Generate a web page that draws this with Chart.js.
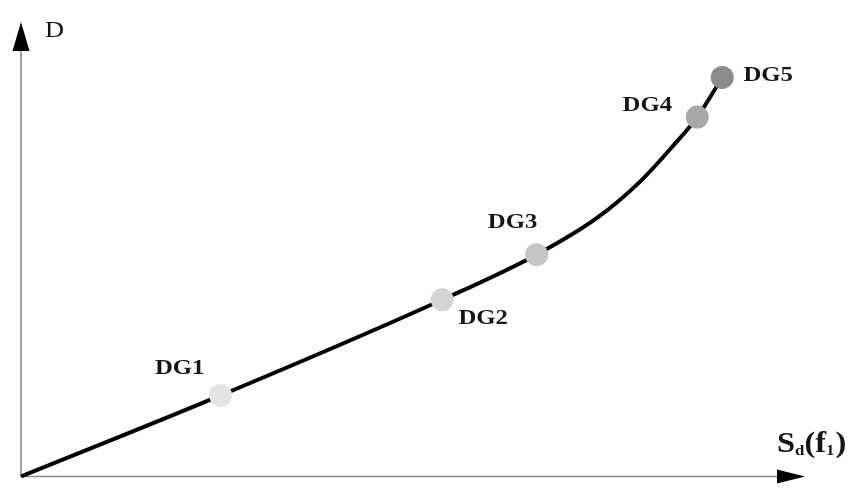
<!DOCTYPE html>
<html>
	<head>
		<title>DG curve</title>
		<script src="https://cdn.jsdelivr.net/npm/chart.js@4.4.0/dist/chart.umd.min.js"></script>
		<style>
			body { margin: 0; background: #fff; overflow: hidden; }
			canvas { display: block; }
		</style>
	</head>
	<body>
		<canvas id="myChart" width="857" height="488"></canvas>
		<script>
			// krzywa
			let curveX = [0, 25.6, 54.0, 66.1, 73.8, 79.4, 83.6, 86.7, 89.9]
			let curveY = [0, 17.8, 38.8, 48.7, 56.7, 64.8, 72.6, 78.9, 87.6]

			// punkty DG
			let dgLabels = ['DG1', 'DG2', 'DG3', 'DG4', 'DG5']
			let dgX = [25.6, 54.0, 66.1, 86.7, 89.9]
			let dgY = [17.8, 38.8, 48.7, 78.9, 87.6]
			let dgColors = ['#e4e4e4', '#d4d4d4', '#c6c6c6', '#a8a8a8', '#8c8c8c']

			let axisX = 'S'
			let axisY = 'D'

			const serif = '"Liberation Serif", "DejaVu Serif", serif'

			// tekst rozciagniety w poziomie (jak na oryginale)
			function wideText (c, txt, x, y, sx) {
				c.save()
				c.translate(x, y)
				c.scale(sx, 1)
				c.fillText(txt, 0, 0)
				c.restore()
			}

			// rysowanie osi, strzalek i podpisow
			const decor = {
				id: 'decor',
				beforeDatasetsDraw (chart) {
					const a = chart.chartArea
					const c = chart.ctx
					c.save()
					c.strokeStyle = '#8a8a8a'
					c.lineWidth = 1.6
					c.beginPath()
					c.moveTo(a.left, a.bottom)
					c.lineTo(a.left, a.top + 20)
					c.moveTo(a.left, a.bottom)
					c.lineTo(a.right - 20, a.bottom)
					c.stroke()
					c.fillStyle = '#000'
					// strzalka Y
					c.beginPath()
					c.moveTo(a.left, a.top + 1)
					c.lineTo(a.left - 8.5, a.top + 30)
					c.lineTo(a.left + 8.5, a.top + 30)
					c.closePath()
					c.fill()
					// strzalka X
					c.beginPath()
					c.moveTo(a.right + 4, a.bottom)
					c.lineTo(a.right - 24, a.bottom - 7)
					c.lineTo(a.right - 24, a.bottom + 7)
					c.closePath()
					c.fill()
					c.restore()
				},
				afterDatasetsDraw (chart) {
					const a = chart.chartArea
					const c = chart.ctx
					const xs = chart.scales.x
					const ys = chart.scales.y
					const offs = [[-41, -27], [41, 19], [-24, -32], [-50, -12], [46, -2]]
					c.save()
					c.fillStyle = '#151515'
					c.textAlign = 'center'
					c.textBaseline = 'middle'
					c.font = 'bold 21px ' + serif
					for (let i = 0; i < dgLabels.length; i++) {
						wideText(c, dgLabels[i], xs.getPixelForValue(dgX[i]) + offs[i][0], ys.getPixelForValue(dgY[i]) + offs[i][1], 1.18)
					}
					// D
					c.textAlign = 'left'
					c.textBaseline = 'alphabetic'
					c.font = '24px ' + serif
					wideText(c, axisY, a.left + 24, a.top + 16, 1.1)
					// S_d(f_1)
					c.translate(a.right - 24, a.bottom - 25)
					c.scale(1.12, 1)
					let x = 0
					let y = 0
					c.font = 'bold 29px ' + serif
					c.fillText(axisX, x, y); x += c.measureText(axisX).width
					c.font = 'bold 15px ' + serif
					c.fillText('d', x, y + 3); x += c.measureText('d').width
					c.font = 'bold 29px ' + serif
					c.fillText('(f', x, y); x += c.measureText('(f').width
					c.font = 'bold 15px ' + serif
					c.fillText('1', x, y + 3); x += c.measureText('1').width + 1
					c.font = 'bold 29px ' + serif
					c.fillText(')', x, y)
					c.restore()
				}
			}

			var ctx = document.getElementById('myChart').getContext('2d')
			var chart = new Chart(ctx, {
				type: 'scatter',
				data: {
					datasets: [{
						label: 'DG',
						data: dgX.map((v, i) => ({ x: v, y: dgY[i] })),
						backgroundColor: dgColors,
						borderWidth: 0,
						pointRadius: 11.5,
						clip: false
					}, {
						label: 'krzywa',
						type: 'line',
						data: curveX.map((v, i) => ({ x: v, y: curveY[i] })),
						borderColor: '#000',
						borderWidth: 4,
						pointRadius: 0,
						cubicInterpolationMode: 'monotone',
						clip: false
					}]
				},
				options: {
					responsive: false,
					animation: false,
					events: [],
					layout: { padding: { left: 21, top: 21, right: 56, bottom: 4 } },
					plugins: { legend: { display: false }, tooltip: { enabled: false } },
					scales: {
						x: { type: 'linear', min: 0, max: 100, display: false },
						y: { type: 'linear', min: 0, max: 100, display: false }
					}
				},
				plugins: [decor]
			})
		</script>
	</body>
</html>
